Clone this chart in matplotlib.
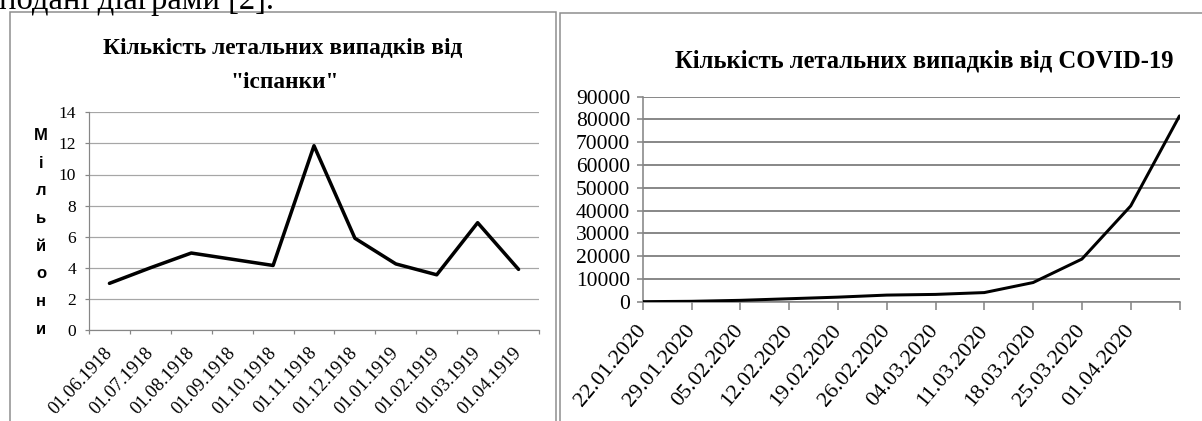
import matplotlib
matplotlib.use("Agg")
import matplotlib.pyplot as plt
import matplotlib.transforms as mtransforms
from matplotlib.patches import Rectangle

# ---------------- data ----------------
flu_dates = ["01.06.1918", "01.07.1918", "01.08.1918", "01.09.1918", "01.10.1918",
             "01.11.1918", "01.12.1918", "01.01.1919", "01.02.1919", "01.03.1919",
             "01.04.1919"]
flu_deaths = [3.0, 4.0, 4.95, 4.55, 4.15, 11.85, 5.9, 4.25, 3.55, 6.9, 3.9]
flu_yticks = [0, 2, 4, 6, 8, 10, 12, 14]
flu_title = ["Кількість летальних випадків від", "\"іспанки\""]
flu_ylabel = "Мільйони"

covid_dates = ["22.01.2020", "29.01.2020", "05.02.2020", "12.02.2020", "19.02.2020",
               "26.02.2020", "04.03.2020", "11.03.2020", "18.03.2020", "25.03.2020",
               "01.04.2020", ""]
covid_deaths = [17, 170, 600, 1300, 2000, 2900, 3200, 4000, 8400, 18700, 42000, 81500]
covid_yticks = [0, 10000, 20000, 30000, 40000, 50000, 60000, 70000, 80000, 90000]
covid_title = "Кількість летальних випадків від COVID-19"

top_text = "подані діаграми [2]."

# ---------------- layout helpers ----------------
W, H, DPI = 1202, 421, 100
fig = plt.figure(figsize=(W / DPI, H / DPI), dpi=DPI)
fig.patch.set_facecolor("white")

SERIF = ["Liberation Serif", "DejaVu Serif"]
SANS = ["Liberation Sans", "DejaVu Sans"]
PT = 72.0 / DPI  # points per pixel


def fx(px):
    return px / W


def fy(py):
    return 1 - py / H


def axes_px(x0, y0, x1, y1):
    return fig.add_axes([x0 / W, 1 - y1 / H, (x1 - x0) / W, (y1 - y0) / H])


# frames around the two charts
fig.add_artist(Rectangle((fx(10), fy(445)), (556 - 10) / W, (445 - 11.7) / H,
                         transform=fig.transFigure, fill=False,
                         ec="#8c8c8c", lw=1.5 * PT))
fig.add_artist(Rectangle((fx(559.5), fy(445)), (1220 - 559.5) / W, (445 - 13) / H,
                         transform=fig.transFigure, fill=False,
                         ec="#8c8c8c", lw=1.5 * PT))

# document text cut at the top
fig.text(fx(-1), fy(8.5), top_text, family=SERIF, fontsize=23.5,
         ha="left", va="baseline", color="black")

# ---------------- left chart ----------------
ax1 = axes_px(89, 112.3, 539, 330)
n1 = len(flu_dates)
ax1.plot(range(n1), flu_deaths, color="black", lw=3.5 * PT,
         solid_joinstyle="round", solid_capstyle="round", zorder=3)
ax1.set_xlim(-0.5, n1 - 0.5)
ax1.set_ylim(flu_yticks[0], flu_yticks[-1])
ax1.set_yticks(flu_yticks)
ax1.set_yticklabels([str(v) for v in flu_yticks], family=SERIF, fontsize=12.5)
ax1.yaxis.grid(True, color="#a6a6a6", lw=1.2 * PT)
ax1.set_axisbelow(True)
ax1.set_xticks([i - 0.5 for i in range(n1 + 1)])
ax1.set_xticklabels([])
ax1.set_xticks(range(n1), minor=True)
ax1.set_xticklabels(flu_dates, minor=True, family=SERIF, fontsize=13.5,
                    rotation=47, ha="right", va="center", rotation_mode="anchor")
ax1.tick_params(axis="x", which="major", length=4 * PT, color="#868686", width=1.2 * PT)
ax1.tick_params(axis="x", which="minor", length=0, pad=20 * PT)
ax1.tick_params(axis="y", length=4 * PT, color="#868686", width=1.2 * PT, pad=9 * PT)
for s in ("top", "right"):
    ax1.spines[s].set_visible(False)
for s in ("left", "bottom"):
    ax1.spines[s].set_color("#868686")
    ax1.spines[s].set_linewidth(1.2 * PT)

fig.text(fx(282.5), fy(54.3), flu_title[0], family=SERIF, fontweight="bold",
         fontsize=16.8, ha="center", va="baseline")
fig.text(fx(285), fy(88.3), flu_title[1], family=SERIF, fontweight="bold",
         fontsize=16.8, ha="center", va="baseline")

for i, ch in enumerate(flu_ylabel):
    fig.text(fx(41), fy(140 + i * 27.7), ch, family=SANS, fontweight="bold",
             fontsize=12, ha="center", va="baseline")

# ---------------- right chart ----------------
ax2 = axes_px(642.7, 96.5, 1179.5, 301.7)
n2 = len(covid_deaths)
ax2.plot(range(n2), covid_deaths, color="black", lw=3.0 * PT,
         solid_joinstyle="round", solid_capstyle="round", zorder=3)
ax2.set_xlim(0, n2 - 1)
ax2.set_ylim(covid_yticks[0], covid_yticks[-1])
ax2.set_yticks(covid_yticks)
ax2.set_yticklabels([str(v) for v in covid_yticks], family=SERIF, fontsize=15.5)
ax2.yaxis.grid(True, color="#8a8a8a", lw=2.0 * PT)
ax2.set_axisbelow(True)
ax2.set_xticks(range(n2))
ax2.set_xticklabels(covid_dates, family=SERIF, fontsize=16,
                    rotation=50, ha="right", va="center", rotation_mode="anchor")
shift = mtransforms.ScaledTranslation(5 / DPI, 0, fig.dpi_scale_trans)
for lab in ax2.get_xticklabels():
    lab.set_transform(lab.get_transform() + shift)
ax2.tick_params(axis="x", length=8 * PT, color="#868686", width=1.6 * PT, pad=18 * PT)
ax2.tick_params(axis="y", length=6.5 * PT, color="#868686", width=1.6 * PT, pad=6 * PT)
for s in ("top", "right"):
    ax2.spines[s].set_visible(False)
for s in ("left", "bottom"):
    ax2.spines[s].set_color("#868686")
    ax2.spines[s].set_linewidth(1.6 * PT)

fig.text(fx(924.5), fy(68), covid_title, family=SERIF, fontweight="bold",
         fontsize=17.7, ha="center", va="baseline")

fig.savefig("out.png", dpi=DPI, facecolor="white")
